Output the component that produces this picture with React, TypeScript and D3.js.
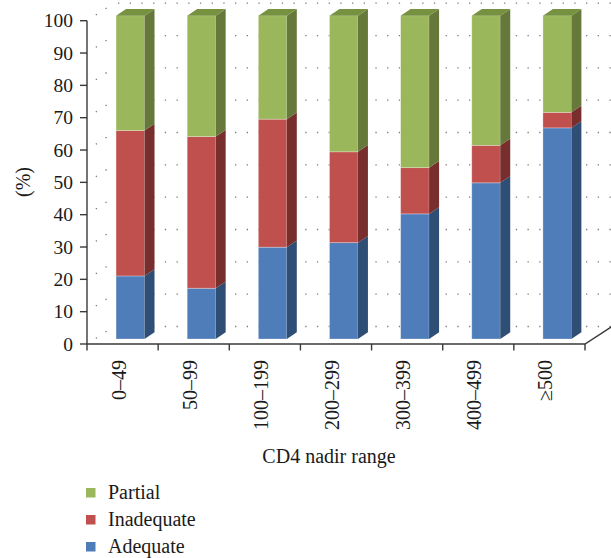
import * as d3 from 'd3'

// CD4 nadir ranges and the share (%) of each adherence level
const categories = ['0–49', '50–99', '100–199', '200–299', '300–399', '400–499', '≥500']
const adequate = [19.5, 15.7, 28.4, 29.8, 38.7, 48.3, 65.3]
const inadequate = [45.0, 46.9, 39.6, 28.1, 14.3, 11.6, 4.8]
const partial = [35.5, 37.4, 32.0, 42.1, 47.0, 40.1, 29.9]
const yTicks = [0, 10, 20, 30, 40, 50, 60, 70, 80, 90, 100]

const series = [
	{ name: 'Adequate', values: adequate, front: '#4f7db9', side: '#2e4e76', top: '#3d6496' },
	{ name: 'Inadequate', values: inadequate, front: '#bf504d', side: '#782e2d', top: '#9a3d3b' },
	{ name: 'Partial', values: partial, front: '#9bb75b', side: '#66793a', top: '#76913f' },
]

const W = 611
const H = 558
const FONT = 'Liberation Serif, Tinos, DejaVu Serif, serif'

// depth of the 3D box (front plane -> back wall)
const wallDx = 27
const wallDy = 17.5
// bar front sits a bit behind the front plane, bar has its own depth
const barOffY = 5
const barOffX = (barOffY * wallDx) / wallDy
const barDy = 6.7
const barDx = 10

const App = () => {
	const x = d3.scaleBand<string>().domain(categories).range([87, 585]).padding(0)
	const y = d3.scaleLinear().domain([0, 100]).range([344, 20.7])
	const barW = x.bandwidth() * 0.4

	const stack = d3
		.stack<number>()
		.keys(series.map((_, i) => String(i)))
		.value((idx, key) => series[+key].values[idx])(categories.map((_, i) => i))

	const axisColor = '#3a3a3a'
	const dotColor = '#7a7a7a'

	return (
		<svg width={W} height={H} style={{ position: 'absolute', left: 0, top: 0, background: '#fff' }}>
			{/* side wall diagonals */}
			{yTicks.map((t) => (
				<line
					key={'sd' + t}
					x1={87}
					y1={y(t)}
					x2={87 + wallDx}
					y2={y(t) - wallDy}
					stroke={dotColor}
					strokeWidth={1.3}
					strokeDasharray="1.3 10.3"
					strokeDashoffset={-10.5}
				/>
			))}
			{/* back wall gridlines */}
			{yTicks.map((t) => (
				<line
					key={'bg' + t}
					x1={87 + wallDx}
					y1={y(t) - wallDy}
					x2={585 + wallDx}
					y2={y(t) - wallDy}
					stroke={dotColor}
					strokeWidth={1.3}
					strokeDasharray="1.3 10.4"
					strokeDashoffset={-4}
				/>
			))}

			{/* bars */}
			{categories.map((c, i) => {
				const x0 = (x(c) as number) + x.bandwidth() / 2 + barOffX - barW / 2
				const x1 = x0 + barW
				return (
					<g key={c}>
						{stack.map((layer, si) => {
							const s = series[si]
							const yb = y(layer[i][0]) - barOffY
							const yt = y(layer[i][1]) - barOffY
							const isTop = si === series.length - 1
							return (
								<g key={s.name}>
									<rect x={x0} y={yt} width={barW} height={yb - yt} fill={s.front} stroke="rgba(255,255,255,0.35)" strokeWidth={0.8} />
									<path
										d={`M${x1},${yt}L${x1 + barDx},${yt - barDy}L${x1 + barDx},${yb - barDy}L${x1},${yb}Z`}
										fill={s.side}
									/>
									{isTop && (
										<path
											d={`M${x0},${yt}L${x0 + barDx},${yt - barDy}L${x1 + barDx},${yt - barDy}L${x1},${yt}Z`}
											fill={s.top}
										/>
									)}
								</g>
							)
						})}
					</g>
				)
			})}

			{/* y axis */}
			<line x1={87} y1={y(100)} x2={87} y2={y(0)} stroke={axisColor} strokeWidth={1.4} />
			{yTicks.map((t) => (
				<g key={'yt' + t}>
					<line x1={80} y1={y(t)} x2={87} y2={y(t)} stroke={axisColor} strokeWidth={1.4} />
					<text x={73} y={y(t)} dy="0.34em" textAnchor="end" fontFamily={FONT} fontSize={19.5} fill="#1a1a1a">
						{t}
					</text>
				</g>
			))}
			<text transform={`translate(30,182) rotate(-90)`} textAnchor="middle" fontFamily={FONT} fontSize={20} fill="#1a1a1a">
				(%)
			</text>

			{/* x axis + floor edge */}
			<path d={`M87,${y(0)}L585,${y(0)}L${585 + wallDx},${y(0) - wallDy}`} fill="none" stroke={axisColor} strokeWidth={1.4} />
			{[...categories.map((c) => x(c) as number), 585].map((px, i) => (
				<line key={'xt' + i} x1={px} y1={y(0)} x2={px} y2={y(0) + 6.5} stroke={axisColor} strokeWidth={1.4} />
			))}
			{categories.map((c) => (
				<text
					key={'xl' + c}
					transform={`translate(${(x(c) as number) + x.bandwidth() / 2 + 3},360) rotate(-90)`}
					textAnchor="end"
					fontFamily={FONT}
					fontSize={20}
					fill="#1a1a1a"
				>
					{c}
				</text>
			))}
			<text x={329} y={463} textAnchor="middle" fontFamily={FONT} fontSize={20} fill="#1a1a1a">
				CD4 nadir range
			</text>

			{/* legend */}
			{[...series].reverse().map((s, i) => (
				<g key={'lg' + s.name} transform={`translate(0,${499 + i * 27})`}>
					<rect x={86} y={-11} width={9.5} height={9.5} fill={s.front} />
					<text x={108} y={0} fontFamily={FONT} fontSize={20} fill="#1a1a1a">
						{s.name}
					</text>
				</g>
			))}
		</svg>
	)
}

export default App
